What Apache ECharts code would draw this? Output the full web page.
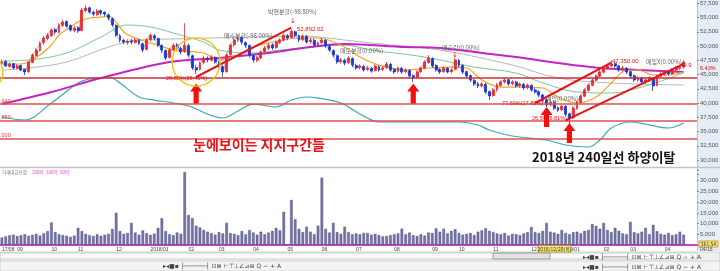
<!DOCTYPE html>
<html><head><meta charset="utf-8">
<script src="https://cdn.jsdelivr.net/npm/echarts/dist/echarts.min.js"></script>
<style>html,body{margin:0;padding:0;background:#fff}#c{width:720px;height:271px}</style>
</head><body><div id="c"></div>
<script>
// ---- price candles ----
const openP=[47000,47300,46400,46900,46100,46600,45900,45500,47100,48300,
49200,50600,51300,51800,52900,52400,53600,54300,53600,52700,
53200,52700,56200,56700,55900,55500,56200,55900,55500,54800,
53600,51800,51000,50600,50900,50600,51100,50400,49400,51100,
51800,51300,50100,49200,48000,49400,50200,49600,49000,50100,
48300,46200,45900,47100,47800,47500,48000,47100,46400,45500,
48500,50200,51000,51500,50600,50100,48300,47500,47900,49000,
49600,50200,49700,50600,51000,51800,51500,52500,51800,51100,
51700,50800,51000,50200,50600,51000,49900,49200,48300,47300,
47500,47100,47800,46600,46200,46400,45900,46100,45700,46400,
45900,46200,46800,45900,45500,46100,45500,45700,44800,44500,
45500,46100,47100,47800,46600,45900,45500,46100,45500,45900,
47500,46600,45500,44800,44000,43400,43000,43300,42000,41300,
42300,43100,43700,44100,43400,43700,43000,43300,42700,43100,
42300,42000,41400,40600,39700,40100,39200,38800,39400,38100,
37400,39000,40100,41200,42200,43100,44000,44700,45400,46100,
46500,46900,46500,45800,46100,45500,44800,44000,44400,43700,
44000,44300,43100,44700,45100,45500,45100,45800,46100,46300];
const closeP=[47200,46500,46850,46150,46500,45800,45450,47200,48400,49300,
50500,51400,51900,52800,52450,53700,54200,53500,52800,53150,
52650,56300,56650,55950,55600,56150,55800,55600,54900,53700,
51900,51050,50700,50850,50700,51050,50500,49300,51050,51900,
51400,50150,49300,47900,49300,50150,49650,48950,50150,48400,
46150,45800,47000,47900,47550,48050,47200,46500,45450,48400,
50150,51050,51400,50700,50150,48400,47550,47900,48950,49650,
50150,49650,50700,51050,51900,51400,52600,51900,51050,51750,
50700,51050,50150,50500,51050,50000,49300,48400,47200,47550,
47000,47900,46650,46150,46500,45800,46150,45600,46500,45800,
46150,46850,45800,45450,46150,45450,45800,44750,44400,45450,
46150,47200,47900,46500,45800,45450,46150,45450,45800,47550,
46650,45450,44750,44050,43350,43000,43350,41950,41250,42300,
43150,43700,44050,43350,43700,43000,43350,42650,43150,42300,
41950,41400,40500,39650,40150,39100,38750,39450,38050,37350,
39100,40150,41250,42300,43150,44050,44750,45450,46150,46500,
46850,46500,45800,46150,45450,44750,44050,44400,43700,44050,
44400,43000,44750,45100,45450,45100,45800,46150,46300,47200];
const lowP=[46600,46300,46200,45900,45900,45600,44900,45300,47000,48100,
49000,50200,51000,51600,52000,52200,53300,53200,52500,52400,
52300,52600,55900,55700,55200,55300,55400,55200,54500,53400,
51600,50600,50300,50200,50300,50400,50200,48900,49200,50800,
51000,49800,48800,47500,47800,49100,49300,48600,48800,48100,
45800,45100,45700,46800,47100,47300,46900,46200,44600,45300,
48300,49900,50700,50300,49700,48000,47100,47200,47700,48700,
49300,49300,49500,50300,50800,51000,51300,51500,50700,50900,
50400,50400,49900,49900,50300,49700,49000,48000,46900,46900,
46600,46800,46300,45800,45900,45500,45600,45300,45500,45500,
45600,46000,45500,45100,45300,45100,45200,44400,43700,44200,
45300,45900,46900,46200,45500,45100,45300,45200,45200,45700,
46300,45100,44400,43700,43000,42600,42700,41600,40500,41100,
42000,42900,43400,43000,43100,42700,42700,42300,42400,42000,
41600,41000,40100,39300,39400,38800,38400,38600,37700,36300,
37200,38800,39900,41000,42000,42900,43800,44500,45200,45900,
46300,46200,45500,45500,45100,44400,43700,43700,43400,43400,
43700,42100,42900,44400,44800,44800,44900,45500,45800,46000];
const highP=[47600,47500,47100,47000,46800,46700,46000,47400,48700,49600,
50800,51700,52300,53100,53200,54000,54600,54500,53800,53500,
53500,56700,57200,56900,56200,56500,56400,56100,55700,55000,
53800,52100,51300,51200,51300,51400,51300,50600,51400,52200,
52100,51500,50300,49400,49600,50500,50500,49900,54000,50400,
48500,46700,47300,48300,48200,48400,48200,47400,46600,48700,
50400,51400,51800,51700,50800,50300,48600,48300,49200,50000,
50500,50500,51000,51400,52200,52100,52900,52700,52000,52000,
51900,51400,51300,50800,51400,51200,50200,49400,48500,47900,
47800,48200,48000,46900,46800,46700,46500,46300,46800,46600,
46500,47200,47000,46100,46400,46300,46100,45900,45000,45700,
46400,47500,48400,48000,46800,46100,46400,46300,46100,47900,
47700,46800,45700,45000,44200,43700,43700,43500,42200,42600,
43500,44000,44400,44300,44000,43900,43600,43500,43400,43300,
42600,42200,41600,40800,40500,40300,39400,39700,39600,38300,
39400,40400,41500,42600,43400,44300,45000,45800,46500,46900,
47500,47200,46700,46500,46300,45700,45000,44700,44600,44400,
44700,44500,45000,45400,45800,45800,46100,46500,46700,47500];
// ---- volume ----
const volume=[3500,4000,4500,4800,4200,4600,5000,4300,4700,5200,
4400,5500,6500,10500,6000,5000,4600,4300,3800,4400,
8000,6500,5200,4600,4200,5000,4300,4800,5200,7500,
15000,6500,5200,5600,10300,5800,4800,6800,5500,4700,
5300,8000,12500,6500,5000,4600,5800,5200,34000,14000,
12500,9000,8200,7000,6200,5500,4800,6000,5400,10300,
5500,5200,4600,6500,5000,7000,5800,4800,6200,5000,
5800,6600,8000,6800,15500,300,21000,12000,7500,6000,
8500,6200,5000,9000,31400,7500,5800,10300,6000,5200,
8500,6000,5000,5400,5000,5600,5600,4800,5200,4600,
4000,4200,4600,5000,5400,7600,5000,5800,4600,4200,
5000,4400,5800,5600,7800,6200,7600,5400,6600,7400,
5600,4800,5200,5600,4600,6200,6800,7800,6600,6000,
5400,5000,5600,4400,5200,5000,4600,5400,6000,8400,
6000,5600,6600,10300,6200,5800,5200,7000,5600,5000,
6000,6200,5400,6600,7000,9800,8900,7600,10300,7000,
6000,8000,6600,5400,5000,10800,6000,5400,6200,8000,
5000,9400,6400,5200,4800,5600,4600,5000,6200,4800];
// ---- moving averages read at points: [barIndex, price] ----
const ma240=[[0,39820],[13,41930],[26,44380],[44,47190],[57,47890],[70,48770],[81,49820],[90,50350],[106,49820],[115,49650],[126,48770],[135,48070],[146,47010],[157,46140],[167,45790],[179,45440]];
const cyanLine=[[0,37540],[6,37020],[13,40000],[20,43510],[23,44210],[28,44560],[31,43510],[36,41050],[40,40520],[45,40000],[49,39470],[58,37370],[62,38590],[66,39820],[72,39300],[76,40520],[80,41050],[83,40870],[89,40000],[94,38070],[99,36670],[108,36670],[120,36670],[125,36140],[128,35260],[134,34210],[143,33510],[148,32630],[154,32280],[157,33510],[160,35610],[165,36670],[169,36310],[175,35610],[179,36490]];
const ma60=[[0,47370],[7,47540],[17,48770],[26,51570],[33,53680],[39,53330],[45,52280],[53,50700],[57,49290],[66,48770],[73,49290],[81,49820],[90,50170],[97,49290],[111,48070],[124,46310],[135,45260],[142,43510],[151,41930],[160,41750],[168,42800],[179,45260]];
const ma120=[[0,45790],[7,46140],[17,47190],[28,49820],[36,51050],[44,51220],[66,51570],[79,51750],[90,51050],[97,50520],[115,49290],[134,46660],[146,44380],[160,43510],[179,43150]];
const ma20=[[0,46840],[5,46840],[7,47190],[10,48420],[13,50170],[15,51930],[18,53330],[20,54210],[23,54910],[26,55080],[28,55260],[30,54210],[32,52450],[35,51400],[38,50700],[41,50170],[45,49290],[53,48770],[57,47540],[62,48420],[66,49820],[70,50520],[78,51400],[83,51400],[89,50170],[94,48070],[99,46660],[106,45790],[112,46140],[118,46310],[122,46140],[126,44030],[131,42800],[135,42800],[142,42630],[146,41050],[151,40000],[156,41050],[160,43510],[163,45440],[167,45790],[171,44910],[175,44910],[179,45440]];
// ---- support levels, trend lines, markers ----
const supportLevels=[44350,39870,36850,33800];
const trendLines=[[51,44560,76,53240],[140,40000,160,47070],[148,36950,179,46850]];
const arrowMarks=[[51,41660],[108,41660],[143,37540],[149,34740]];
const lastPrice=47200;
const tickIndex=[0,4,13,20,30,39,49,57,66,75,84,93,103,113,120,129,139,147,158,165,174];
const tickLabels=['17/08','09','10','11','12','2018/01','02','03','04','05','06','07','08','09','10','11','12','2019/01','02','03','04'];
const padBars=3;

const nCat=closeP.length+padBars;
const cats=new Array(nCat).fill('');
tickIndex.forEach((ix,j)=>{cats[ix]=tickLabels[j];});
const candles=closeP.map((c,i)=>[openP[i],c,lowP[i],highP[i]]);
const fmt=v=>v.toLocaleString('en-US');
const KR='"Noto Sans CJK KR", sans-serif';
const SM='"DejaVu Sans", sans-serif';
const LS='"Liberation Sans", sans-serif';

function lineS(data,color,width){
  return {type:'line',xAxisIndex:0,yAxisIndex:0,data:data,smooth:0.35,showSymbol:false,symbol:'none',
    lineStyle:{color:color,width:width},silent:true,z:2};
}
const arrowPath='path://M6,0 L12,8 L8.6,8 L8.6,20 L3.4,20 L3.4,8 L0,8 Z';

function txt(x,y,t,color,size,font){
  return {type:'text',x:x,y:y,z:60,silent:true,
    style:{text:t,fill:color,fontSize:size,fontFamily:font||SM,align:'left',verticalAlign:'middle'}};
}
function ctxt(x,y,t,color,size,z){
  return {type:'text',x:x,y:y,z:z||60,silent:true,
    style:{text:t,fill:color,fontSize:size,fontFamily:KR,align:'center',verticalAlign:'middle'}};
}
function box(x,y,w,h,fill,stroke,z){
  return {type:'rect',shape:{x:x,y:y,width:w,height:h},z:z===undefined?-5:z,silent:true,
    style:{fill:fill,stroke:stroke||null,lineWidth:stroke?0.8:0}};
}
const tools='▸◂■▪ ├──────┤ ⊡⊠ ⊢⊤⊥∠⊿⊞ Q − + A';
const chart=echarts.init(document.getElementById('c'),null,{renderer:'canvas'});
chart.setOption({
  animation:false,
  backgroundColor:'#ffffff',
  grid:[
    {left:0,right:23,top:-11,height:185.25,outerBoundsMode:'none',containLabel:false},
    {left:0,right:23,top:170,height:75,outerBoundsMode:'none',containLabel:false}
  ],
  xAxis:[
    {type:'category',gridIndex:0,data:cats,boundaryGap:true,show:false},
    {type:'category',gridIndex:1,data:cats,boundaryGap:true,
      axisLine:{show:true,lineStyle:{color:'#d83ad8',width:2}},
      axisTick:{show:false},
      axisLabel:{show:true,interval:0,align:'left',margin:2,fontSize:5,color:'#444',fontFamily:LS},
      splitLine:{show:false}}
  ],
  yAxis:[
    {type:'value',gridIndex:0,position:'right',min:27500,max:60000,interval:2500,scale:false,
      axisLine:{show:false},axisTick:{show:true,length:2,lineStyle:{color:'#888'}},splitLine:{show:false},
      axisLabel:{margin:3,fontSize:6,color:'#555',fontFamily:LS,
        formatter:v=>(v<30000||v>57500)?'':fmt(v)}},
    {type:'value',gridIndex:1,position:'right',min:0,max:35000,interval:5000,
      axisLine:{show:false},axisTick:{show:true,length:2,lineStyle:{color:'#888'}},splitLine:{show:false},
      axisLabel:{margin:3,fontSize:6,color:'#555',fontFamily:LS,
        formatter:v=>(v<=0||v>30000)?'':fmt(v)}}
  ],
  series:[
    lineS(cyanLine,'#3aa8b8',1.2),
    lineS(ma120,'#b8b8b8',1),
    lineS(ma60,'#82c496',1),
    lineS(ma240,'#c424c4',2),
    lineS(ma20,'#f0a428',1.2),
    {type:'line',xAxisIndex:0,yAxisIndex:0,data:closeP,smooth:0.3,showSymbol:false,symbol:'none',
      lineStyle:{color:'#5a78d8',width:0.8,opacity:0.7},silent:true,z:2},
    {type:'candlestick',xAxisIndex:0,yAxisIndex:0,data:candles,barWidth:2.4,z:3,silent:true,
      itemStyle:{color:'#ee2a2a',color0:'#1838d0',borderColor:'#ee2a2a',borderColor0:'#1838d0',borderWidth:0.8},
      markLine:{silent:true,symbol:['none','none'],animation:false,label:{show:false},
        data:[
          ...supportLevels.map((v,i)=>({yAxis:v,lineStyle:{color:i===0?'#c8303a':'#e05050',width:1.5,type:'solid'}})),
          ...trendLines.map(t=>[{coord:[t[0],t[1]],lineStyle:{color:'#e4141a',width:2,type:'solid'}},{coord:[t[2],t[3]]}]),
          {yAxis:lastPrice,lineStyle:{opacity:0},
            label:{show:true,position:'end',distance:1,formatter:fmt(lastPrice),backgroundColor:'#e01010',
              color:'#fff',fontSize:6,fontFamily:LS,padding:[1,2]}}
        ]},
      markPoint:{silent:true,animation:false,label:{show:false},
        data:[
          ...arrowMarks.map(a=>({coord:a,symbol:arrowPath,symbolSize:[12,20],itemStyle:{color:'#f01010'}})),
          {coord:[51,47190],symbol:'circle',symbolSize:48,itemStyle:{color:'rgba(0,0,0,0)',borderColor:'#f2c420',borderWidth:1.5}},
          {coord:[0,45430],symbol:'circle',symbolSize:36,symbolOffset:[-17,0],itemStyle:{color:'rgba(0,0,0,0)',borderColor:'#f2c420',borderWidth:1.5}}
        ]}
    },
    {type:'bar',xAxisIndex:1,yAxisIndex:1,data:volume,barWidth:2.6,silent:true,
      itemStyle:{color:'#7474a8',borderColor:'#44447a',borderWidth:0.4}}
  ],
  graphic:[
    box(697,0,23,251,'#e7edf6',null,-10),
    {type:'line',shape:{x1:697.5,y1:0,x2:697.5,y2:251},z:-4,silent:true,style:{stroke:'#b8c2d0',lineWidth:1}},
    {type:'line',shape:{x1:0,y1:167.5,x2:720,y2:167.5},z:-4,silent:true,style:{stroke:'#c4c4c4',lineWidth:1.5}},
    // toolbar
    box(0,252,720,19,'#efefef','#c8c8c8',50),
    box(0,253,697,6,'#fafafa','#c4c4c4',51),
    box(493,253,57,6,'#e2e2e2','#8a8a8a',52),
    box(0,261,720,10,'#f3f3f3','#cccccc',51),
    Object.assign(txt(163,266,tools,'#444',6),{z:53}),
    Object.assign(txt(583,257,tools,'#444',6),{z:53}),
    Object.assign(txt(583,267,tools,'#444',6),{z:53}),
    // date & value boxes
    box(538,245.5,33,6.5,'#f6e67a','#b89a00',55),
    ctxt(554.5,249,'2018/12/20(목)','#333',5,56),
    box(699,241,19,6,'#f6e67a','#b89a00',55),
    ctxt(708.5,244,'361.54','#333',5,56),
    Object.assign(txt(700,250,'04/16','#444',5,LS),{z:56}),
    txt(700,68,'6.43%','#e01010',5.5,LS),
    // volume panel title
    txt(2,172,'거래대금보정','#777',4.5,KR),
    txt(32,172,'200억','#e040e0',4.5,KR),
    txt(46,172,'100억','#e040e0',4.5,KR),
    txt(60,172,'50억','#e040e0',4.5,KR),
    // left cut labels
    txt(0,101,'.940','#e04040',5.5,LS),
    txt(0,117,'.850','#e04040',5.5,LS),
    txt(0,135,'.000','#e04040',5.5,LS),
    // small annotations
    txt(268,12,'박현분할(-98.80%)','#666',6,KR),
    txt(290,21,'↓','#e01010',7),
    txt(297,29,'52,892.02','#e01010',6,LS),
    txt(224,36,'매수분할(-98.00%)','#666',6,KR),
    txt(166,78,'26,88%(26,45%)','#e01010',5.5,LS),
    txt(340,51,'매도분할(0.00%)','#666',6,KR),
    txt(442,48,'매출락(0.00%)','#666',6,KR),
    txt(452,55,'↓','#e01010',7),
    txt(502,103,'77.69%(17.88%)','#e01010',5.5,LS),
    txt(546,99,'매입(0.00%)','#666',6,KR),
    txt(532,118,'26.5%(6.81%)','#e01010',5.5,LS),
    txt(612,61,'47,350.00','#e01010',6,LS),
    txt(646,62,'매입X(0.00%)','#666',6,KR),
    txt(680,65,'49.9','#e01010',6,LS),
    // big texts
    {type:'text',x:193,y:145,z:60,silent:true,style:{text:'눈에보이는 지지구간들',fill:'#e8141a',fontSize:14,fontWeight:'bold',fontFamily:KR,align:'left',verticalAlign:'middle'}},
    {type:'text',x:532,y:157,z:60,silent:true,style:{text:'2018년 240일선 하양이탈',fill:'#111',fontSize:13,fontWeight:'bold',fontFamily:KR,align:'left',verticalAlign:'middle'}}
  ]
});
</script></body></html>
